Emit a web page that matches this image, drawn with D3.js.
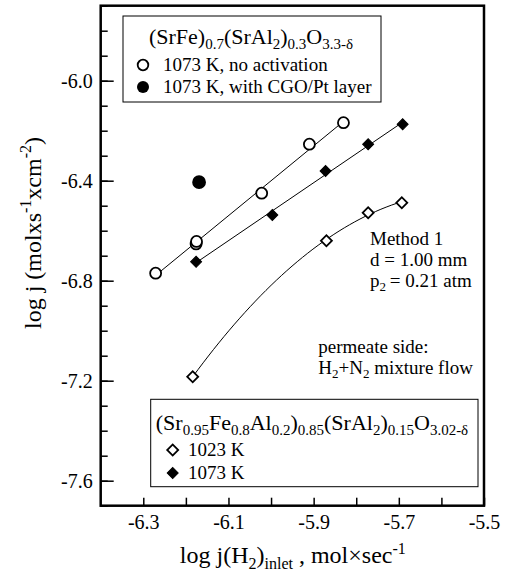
<!DOCTYPE html>
<html>
<head>
<meta charset="utf-8">
<script src="https://cdn.jsdelivr.net/npm/d3@7"></script>
<style>
  body { margin: 0; background: #fff; }
  svg { font-family: "Liberation Serif", "Times New Roman", serif; }
</style>
</head>
<body>
<div id="cnv"></div>
<script>
// data
var noActX = [-6.271, -6.176, -6.175, -6.022, -5.910, -5.830];
var noActY = [-6.770, -6.653, -6.643, -6.450, -6.254, -6.168];
var cgoX = [-6.169];
var cgoY = [-6.406];
var k1073X = [-6.176, -5.997, -5.872, -5.772, -5.691];
var k1073Y = [-6.724, -6.537, -6.361, -6.254, -6.174];
var k1023X = [-6.184, -5.870, -5.772, -5.693];
var k1023Y = [-7.184, -6.640, -6.528, -6.488];

var xTicks = [-6.3, -6.2, -6.1, -6.0, -5.9, -5.8, -5.7, -5.6, -5.5];
var xLabels = [-6.3, -6.1, -5.9, -5.7, -5.5];
var yTicks = [-7.7, -7.6, -7.5, -7.4, -7.3, -7.2, -7.1, -7.0, -6.9, -6.8, -6.7, -6.6, -6.5, -6.4, -6.3, -6.2, -6.1, -6.0, -5.9, -5.8, -5.7];
var yLabels = [-7.6, -7.2, -6.8, -6.4, -6.0];

var width = 510, height = 579;
var margin = {top: 5.7, right: 26, bottom: 73.3, left: 100.7},
    graphWidth = width - margin.left - margin.right,
    graphHeight = height - margin.top - margin.bottom;

var svg = d3.select("#cnv").append("svg")
  .attr("width", width)
  .attr("height", height);

var g = svg.append("g")
  .attr("transform", "translate(" + margin.left + "," + margin.top + ")");

var xScale = d3.scaleLinear().domain([-6.4, -5.5]).range([0, graphWidth]);
var yScale = d3.scaleLinear().domain([-7.7, -5.7]).range([graphHeight, 0]);

function fmt(d) { return d3.format(".1f")(d).replace("\u2212", "-"); }
function isLabel(list, d) { return list.some(function(v){ return Math.abs(v - d) < 1e-6; }); }

function styleAxis(a) {
  a.attr("font-family", null).attr("font-size", null);
  a.select(".domain").remove();
  a.selectAll("line").attr("stroke-width", 1.5);
  a.selectAll("text")
    .style("font-family", "'Liberation Serif', serif")
    .style("font-size", "20px")
    .attr("fill", "#000");
}

// x axis, ticks pointing inward
g.append("g")
  .attr("transform", "translate(0," + graphHeight + ")")
  .call(d3.axisBottom(xScale).tickValues(xTicks).tickSize(-8).tickPadding(9)
    .tickFormat(function(d){ return isLabel(xLabels, d) ? fmt(d) : ""; }))
  .call(styleAxis);

// y axis, minor and labelled ticks
g.append("g")
  .call(d3.axisLeft(yScale).tickValues(yTicks).tickSize(-7).tickFormat(""))
  .call(styleAxis);
g.append("g")
  .call(d3.axisLeft(yScale).tickValues(yLabels).tickSize(-13).tickPadding(8).tickFormat(fmt))
  .call(styleAxis);

// frame
g.append("rect")
  .attr("width", graphWidth).attr("height", graphHeight)
  .attr("fill", "none").attr("stroke", "#000").attr("stroke-width", 2.5);

// helper for text with sub/superscripts
function rich(sel, parts, size) {
  var small = Math.round(size * 0.68);
  var shift = 0;
  parts.forEach(function(p){
    var t = sel.append("tspan").text(p[0]);
    var target = p[1] == "sub" ? size * 0.22 : (p[1] == "sup" ? -size * 0.4 : 0);
    t.attr("dy", target - shift);
    shift = target;
    t.attr("font-size", p[1] == "n" ? size : small);
  });
}

function zip(xs, ys) { return xs.map(function(x, i){ return [x, ys[i]]; }); }

// least squares straight line over the x range of a series
function fitLine(xs, ys) {
  var mx = d3.mean(xs), my = d3.mean(ys);
  var b = d3.sum(xs, function(x, i){ return (x - mx) * (ys[i] - my); }) / d3.sum(xs, function(x){ return (x - mx) * (x - mx); });
  var x0 = d3.min(xs), x1 = d3.max(xs);
  return [[x0, my + b * (x0 - mx)], [x1, my + b * (x1 - mx)]];
}

// least squares parabola, drawn over the x range of a series
function fitQuad(xs, ys) {
  var mx = d3.mean(xs);
  var u = xs.map(function(x){ return x - mx; });
  var s = [0, 0, 0, 0, 0], t = [0, 0, 0];
  u.forEach(function(v, i){
    for (var k = 0; k < 5; k++) s[k] += Math.pow(v, k);
    for (var k2 = 0; k2 < 3; k2++) t[k2] += Math.pow(v, k2) * ys[i];
  });
  var M = [[s[0], s[1], s[2], t[0]], [s[1], s[2], s[3], t[1]], [s[2], s[3], s[4], t[2]]];
  for (var i = 0; i < 3; i++) {
    for (var j = i + 1; j < 3; j++) {
      var f = M[j][i] / M[i][i];
      for (var k = i; k < 4; k++) M[j][k] -= f * M[i][k];
    }
  }
  var c = [0, 0, 0];
  for (var i2 = 2; i2 >= 0; i2--) {
    var acc = M[i2][3];
    for (var k3 = i2 + 1; k3 < 3; k3++) acc -= M[i2][k3] * c[k3];
    c[i2] = acc / M[i2][i2];
  }
  var x0 = d3.min(xs), x1 = d3.max(xs);
  return d3.range(0, 41).map(function(n){
    var x = x0 + (x1 - x0) * n / 40, v = x - mx;
    return [x, c[0] + c[1] * v + c[2] * v * v];
  });
}

var line = d3.line()
  .x(function(d){ return xScale(d[0]); })
  .y(function(d){ return yScale(d[1]); });

g.append("path").datum(fitLine(noActX, noActY))
  .attr("d", line).attr("fill", "none").attr("stroke", "#000").attr("stroke-width", 1);
g.append("path").datum(fitLine(k1073X, k1073Y))
  .attr("d", line).attr("fill", "none").attr("stroke", "#000").attr("stroke-width", 1);
g.append("path").datum(fitQuad(k1023X, k1023Y))
  .attr("d", line).attr("fill", "none").attr("stroke", "#000").attr("stroke-width", 1);

var diamond = d3.symbol().type(d3.symbolSquare).size(60);

function circles(pts, fill) {
  g.selectAll(null).data(pts).enter().append("circle")
    .attr("cx", function(d){ return xScale(d[0]); })
    .attr("cy", function(d){ return yScale(d[1]); })
    .attr("r", fill ? 6 : 5.5)
    .attr("fill", fill ? "#000" : "#fff")
    .attr("stroke", "#000").attr("stroke-width", 1.8);
}
function diamonds(pts, fill) {
  g.selectAll(null).data(pts).enter().append("path")
    .attr("d", diamond)
    .attr("transform", function(d){ return "translate(" + xScale(d[0]) + "," + yScale(d[1]) + ") rotate(45)"; })
    .attr("fill", fill ? "#000" : "#fff")
    .attr("stroke", "#000").attr("stroke-width", fill ? 1 : 1.8);
}

circles(zip(noActX, noActY), false);
circles(zip(cgoX, cgoY), true);
diamonds(zip(k1073X, k1073Y), true);
diamonds(zip(k1023X, k1023Y), false);

// legend 1
svg.append("rect").attr("x", 123).attr("y", 16).attr("width", 258).attr("height", 86)
  .attr("fill", "#fff").attr("stroke", "#000").attr("stroke-width", 1);
rich(svg.append("text").attr("x", 251).attr("y", 44).attr("text-anchor", "middle"),
  [["(SrFe)", "n"], ["0.7", "sub"], ["(SrAl", "n"], ["2", "sub"], [")", "n"], ["0.3", "sub"], ["O", "n"], ["3.3-\u03b4", "sub"]], 22);
svg.append("circle").attr("cx", 143).attr("cy", 65).attr("r", 5.3)
  .attr("fill", "#fff").attr("stroke", "#000").attr("stroke-width", 1.8);
svg.append("text").attr("x", 163).attr("y", 71).attr("font-size", 19).text("1073 K, no activation");
svg.append("circle").attr("cx", 143).attr("cy", 87).attr("r", 6).attr("fill", "#000");
svg.append("text").attr("x", 163).attr("y", 93).attr("font-size", 19).text("1073 K, with CGO/Pt layer");

// legend 2
svg.append("rect").attr("x", 150.7).attr("y", 399.3).attr("width", 327.3).attr("height", 87.4)
  .attr("fill", "#fff").attr("stroke", "#000").attr("stroke-width", 1);
rich(svg.append("text").attr("x", 312).attr("y", 430).attr("text-anchor", "middle"),
  [["(Sr", "n"], ["0.95", "sub"], ["Fe", "n"], ["0.8", "sub"], ["Al", "n"], ["0.2", "sub"], [")", "n"], ["0.85", "sub"],
   ["(SrAl", "n"], ["2", "sub"], [")", "n"], ["0.15", "sub"], ["O", "n"], ["3.02-\u03b4", "sub"]], 22);
svg.append("path").attr("d", diamond).attr("transform", "translate(172.7,450) rotate(45)")
  .attr("fill", "#fff").attr("stroke", "#000").attr("stroke-width", 1.8);
svg.append("text").attr("x", 188).attr("y", 456).attr("font-size", 19).text("1023 K");
svg.append("path").attr("d", diamond).attr("transform", "translate(172.7,473) rotate(45)")
  .attr("fill", "#000").attr("stroke", "#000");
svg.append("text").attr("x", 188).attr("y", 479).attr("font-size", 19).text("1073 K");

// annotations
svg.append("text").attr("x", 370).attr("y", 245).attr("font-size", 19).text("Method 1");
svg.append("text").attr("x", 370).attr("y", 265.5).attr("font-size", 19).text("d = 1.00 mm");
rich(svg.append("text").attr("x", 370).attr("y", 286.5),
  [["p", "n"], ["2", "sub"], ["\u2009= 0.21 atm", "n"]], 19);
svg.append("text").attr("x", 318.3).attr("y", 353.3).attr("font-size", 19).text("permeate side:");
rich(svg.append("text").attr("x", 318.3).attr("y", 373.5),
  [["H", "n"], ["2", "sub"], ["+N", "n"], ["2", "sub"], [" mixture flow", "n"]], 19);

// axis titles
rich(svg.append("text").attr("x", 292.8).attr("y", 563.3).attr("text-anchor", "middle"),
  [["log j(H", "n"], ["2", "sub"], [")", "n"], ["inlet", "sub"], [" , mol\u00d7sec", "n"], ["-1", "sup"]], 24);
rich(svg.append("text").attr("transform", "translate(41,233) rotate(-90)").attr("text-anchor", "middle"),
  [["log j (molxs", "n"], ["-1", "sup"], ["xcm", "n"], ["-2", "sup"], [")", "n"]], 24);
</script>
</body>
</html>
